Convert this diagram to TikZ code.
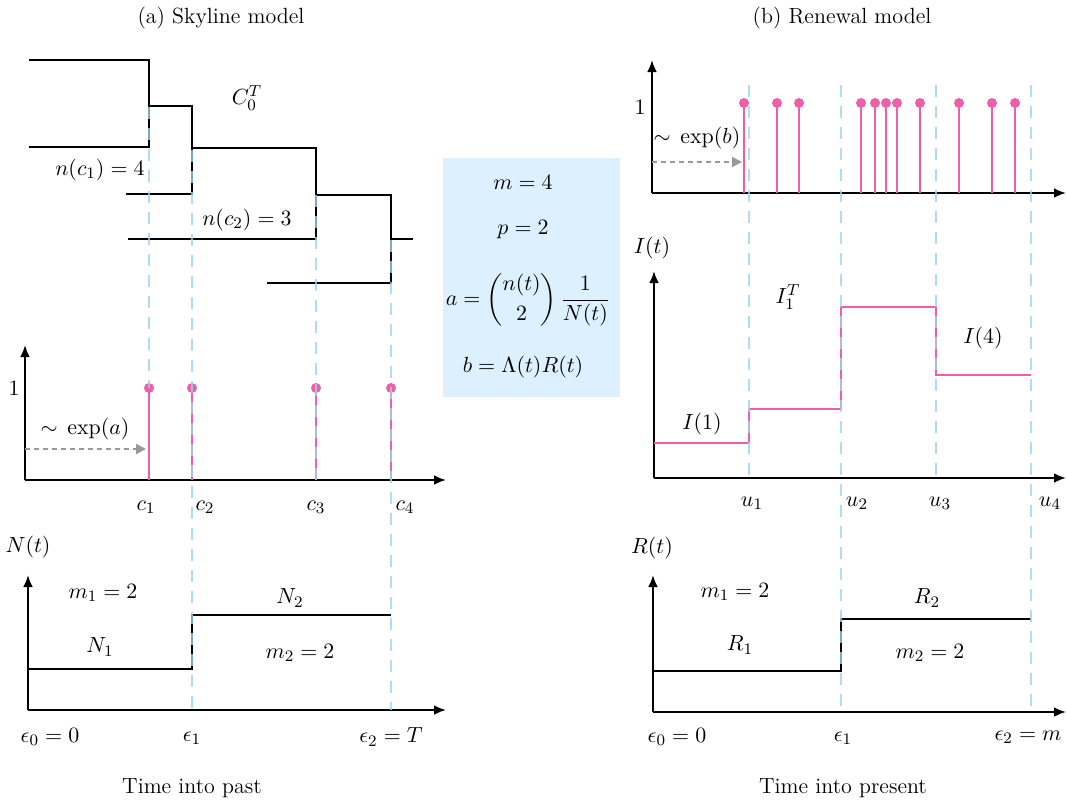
\documentclass[tikz,border=0pt]{standalone}
\usepackage{amsmath}
\usetikzlibrary{arrows.meta}
\definecolor{pinkc}{HTML}{EE5FA7}
\definecolor{guideblue}{HTML}{9CD3F5}
\definecolor{boxblue}{HTML}{DDF0FD}
\definecolor{waitgray}{HTML}{999999}
\tikzset{
  every node/.style={font=\fontsize{11}{13}\selectfont, inner sep=1pt},
  axis/.style={line width=1.3pt, -{Latex[length=6pt,width=5pt]}},
  treeline/.style={line width=1pt},
  guide/.style={draw=guideblue, line width=1pt, dash pattern=on 6pt off 4.5pt, opacity=0.8},
  stem/.style={draw=pinkc, line width=1pt},
  dot/.style={circle, fill=pinkc, inner sep=0pt, minimum size=5pt},
  waitarrow/.style={draw=waitgray, line width=0.9pt, dash pattern=on 2.5pt off 2pt, -{Triangle[length=5pt,width=5pt]}},
  stepblack/.style={line width=1pt},
  steppink/.style={draw=pinkc, line width=1pt},
}
\begin{document}
\begin{tikzpicture}[x=0.5pt,y=-0.5pt]
\useasboundingbox (0,0) rectangle (1066,803);

% ---------------- titles ----------------
\node (ta) at (221,18) {(a) Skyline model};
\node (tb) at (842,18) {(b) Renewal model};

% ---------------- (a) tree ----------------
\draw[treeline] (29,60) -- (149,60) -- (149,147) -- (29,147);
\draw[treeline] (149,106) -- (192,106) -- (192,194) -- (126,194);
\draw[treeline] (192,148) -- (316,148) -- (316,239) -- (128,239);
\draw[treeline] (316,195) -- (391,195) -- (391,283) -- (267,283);
\draw[treeline] (391,239) -- (413,239);
\node (c0t) at (247,98) {$C_0^T$};
\node (nc1) at (100,170) {$n(c_1) = 4$};
\node (nc2) at (247,220) {$n(c_2) = 3$};

% ---------------- (a) coalescent events ----------------
\coordinate (ao) at (25,480);
\coordinate (ay) at (25,345);
\coordinate (ax) at (446,480);
\draw[axis] (ao) -- (ay);
\draw[axis] (ao) -- (ax);
\node (aone) at (14,388) {$1$};
\foreach \i/\x in {1/149,2/192,3/316,4/391}{
  \coordinate (ab\i) at (\x,480);
  \node[dot] (ad\i) at (\x,388) {};
  \draw[stem] (ab\i) -- (ad\i.center);
}
\coordinate (awa) at (25,449);
\coordinate (awb) at (146,449);
\draw[waitarrow] (awa) -- (awb);
\node (expa) at (85,429) {$\sim\,\exp(a)$};
\node (c1) at (146,507) {$c_1$};
\node (c2) at (205,507) {$c_2$};
\node (c3) at (316,507) {$c_3$};
\node (c4) at (405,507) {$c_4$};

% ---------------- (a) population size ----------------
\coordinate (no) at (28,710);
\coordinate (ny) at (28,575);
\coordinate (nx) at (446,710);
\draw[axis] (no) -- (ny);
\draw[axis] (no) -- (nx);
\coordinate (ns0) at (28,669);
\coordinate (ns1) at (192,669);
\coordinate (ns2) at (192,615);
\coordinate (ns3) at (391,615);
\draw[stepblack] (ns0) -- (ns1) -- (ns2) -- (ns3);
\node (Nt) at (28,547) {$N(t)$};
\node (nm1) at (103,593) {$m_1 = 2$};
\node (N1) at (100,647) {$N_1$};
\node (N2) at (290,598) {$N_2$};
\node (nm2) at (300,653) {$m_2 = 2$};
\node (ne0) at (50,737) {$\epsilon_0 = 0$};
\node (ne1) at (192,738) {$\epsilon_1$};
\node (ne2) at (391,737) {$\epsilon_2 = T$};
\node (tpast) at (192,788) {Time into past};

% ---------------- middle box ----------------
\node[fill=boxblue, minimum width=88.5pt, minimum height=119.5pt, inner sep=0pt] (box) at (531.5,277.5) {};
\node (bm) at (523,182) {$m = 4$};
\node (bp) at (523,230) {$p = 2$};
\node (ba) at (528,300) {$a = \dbinom{n(t)}{2}\,\dfrac{1}{N(t)}$};
\node (bb) at (523,367) {$b = \Lambda(t)R(t)$};

% ---------------- (b) sampling events ----------------
\coordinate (bo) at (652,193);
\coordinate (by) at (652,60);
\coordinate (bx) at (1066,193);
\draw[axis] (bo) -- (by);
\draw[axis] (bo) -- (bx);
\node (bone) at (640,107) {$1$};
\foreach \i/\x in {1/744,2/777,3/799,4/861,5/875,6/886,7/897,8/920,9/959,10/992,11/1015}{
  \coordinate (bb\i) at (\x,193);
  \node[dot] (bd\i) at (\x,103) {};
  \draw[stem] (bb\i) -- (bd\i.center);
}
\coordinate (bwa) at (652,162);
\coordinate (bwb) at (742,162);
\draw[waitarrow] (bwa) -- (bwb);
\node (expb) at (697,138) {$\sim\,\exp(b)$};

% ---------------- (b) incidence ----------------
\coordinate (io) at (654,478);
\coordinate (iy) at (654,271);
\coordinate (ix) at (1066,478);
\draw[axis] (io) -- (iy);
\draw[axis] (io) -- (ix);
\coordinate (is0) at (654,443);
\coordinate (is1) at (749,443);
\coordinate (is2) at (749,409);
\coordinate (is3) at (841,409);
\coordinate (is4) at (841,307);
\coordinate (is5) at (936,307);
\coordinate (is6) at (936,375);
\coordinate (is7) at (1031,375);
\draw[steppink] (is0) -- (is1) -- (is2) -- (is3) -- (is4) -- (is5) -- (is6) -- (is7);
\node (It) at (652,248) {$I(t)$};
\node (I1) at (702,424) {$I(1)$};
\node (I1T) at (788,297) {$I_1^T$};
\node (I4) at (983,338) {$I(4)$};
\node (u1) at (752,503) {$u_1$};
\node (u2) at (857,503) {$u_2$};
\node (u3) at (940,503) {$u_3$};
\node (u4) at (1050,503) {$u_4$};

% ---------------- (b) reproduction number ----------------
\coordinate (ro) at (653,712);
\coordinate (ry) at (653,575);
\coordinate (rx) at (1066,712);
\draw[axis] (ro) -- (ry);
\draw[axis] (ro) -- (rx);
\coordinate (rs0) at (653,671);
\coordinate (rs1) at (841,671);
\coordinate (rs2) at (841,619);
\coordinate (rs3) at (1031,619);
\draw[stepblack] (rs0) -- (rs1) -- (rs2) -- (rs3);
\node (Rt) at (652,548) {$R(t)$};
\node (rm1) at (735,592) {$m_1 = 2$};
\node (R1) at (740,645) {$R_1$};
\node (R2) at (927,598) {$R_2$};
\node (rm2) at (930,653) {$m_2 = 2$};
\node (re0) at (677,737) {$\epsilon_0 = 0$};
\node (re1) at (843,738) {$\epsilon_1$};
\node (re2) at (1028,737) {$\epsilon_2 = m$};
\node (tpres) at (843,788) {Time into present};

% ---------------- guide lines ----------------
\coordinate (g1a) at (149,107); \coordinate (g1b) at (149,388);
\coordinate (g2a) at (192,150); \coordinate (g2b) at (192,710);
\coordinate (g3a) at (316,195); \coordinate (g3b) at (316,480);
\coordinate (g4a) at (391,240); \coordinate (g4b) at (391,710);
\coordinate (h1a) at (749,85); \coordinate (h1b) at (749,478);
\coordinate (h2a) at (841,85); \coordinate (h2b) at (841,712);
\coordinate (h3a) at (936,85); \coordinate (h3b) at (936,478);
\coordinate (h4a) at (1031,85); \coordinate (h4b) at (1031,712);
\foreach \p in {g1,g2,g3,g4,h1,h2,h3,h4}{
  \draw[guide] (\p a) -- (\p b);
}
\end{tikzpicture}
\end{document}
